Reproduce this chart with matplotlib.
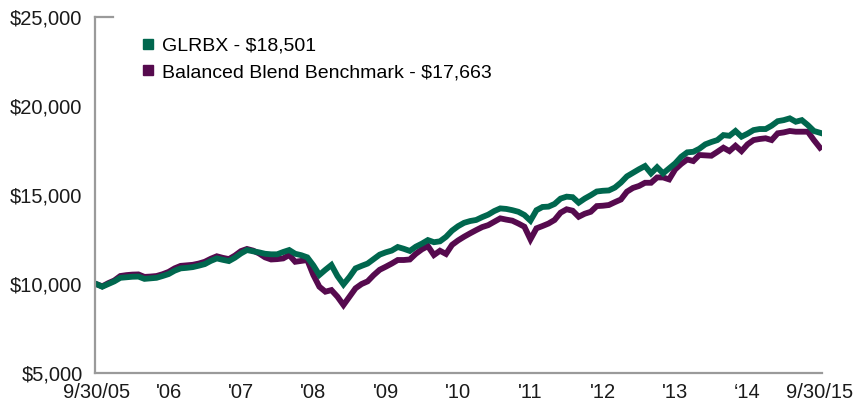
import matplotlib.pyplot as plt
from matplotlib.lines import Line2D
from matplotlib.ticker import FuncFormatter

plt.rcParams['font.family'] = ['Liberation Sans', 'DejaVu Sans']

# Monthly growth of $10,000, 9/30/05 .. 9/30/15
glrbx = [10000, 9850, 10000, 10150, 10350, 10380, 10410, 10420, 10290, 10320,
         10350, 10450, 10560, 10750, 10880, 10910, 10950, 11030, 11120, 11300,
         11440, 11360, 11290, 11480, 11720, 11910, 11840, 11780, 11700, 11670,
         11670, 11800, 11910, 11700, 11620, 11500, 11050, 10510, 10800, 11070,
         10450, 9980, 10400, 10880, 11020, 11150, 11400, 11650, 11780, 11880,
         12080, 11980, 11860, 12100, 12270, 12470, 12350, 12400, 12650, 13000,
         13250, 13440, 13540, 13600, 13760, 13900, 14100, 14250, 14220, 14150,
         14060, 13880, 13560, 14150, 14330, 14350, 14500, 14800, 14910, 14880,
         14570, 14800, 14990, 15200, 15240, 15260, 15420, 15700, 16050, 16250,
         16450, 16630, 16220, 16560, 16220, 16500, 16780, 17150, 17400, 17430,
         17600, 17850, 17980, 18090, 18370, 18330, 18600, 18280, 18450, 18650,
         18710, 18710, 18900, 19150, 19210, 19310, 19120, 19210, 18930, 18600,
         18501]

benchmark = [10000, 9870, 10050, 10200, 10450, 10500, 10530, 10540, 10400, 10420,
             10450, 10550, 10680, 10880, 11020, 11050, 11080, 11150, 11250, 11420,
             11560, 11470, 11400, 11600, 11850, 11970, 11880, 11720, 11500, 11380,
             11400, 11440, 11630, 11250, 11300, 11350, 10510, 9850, 9570, 9660,
             9290, 8820, 9290, 9760, 10000, 10150, 10500, 10800, 10970, 11150,
             11350, 11350, 11380, 11700, 11950, 12130, 11630, 11870, 11690, 12200,
             12450, 12660, 12850, 13030, 13200, 13310, 13500, 13690, 13620, 13560,
             13400, 13220, 12510, 13130, 13260, 13400, 13600, 14010, 14200, 14120,
             13780, 13950, 14060, 14380, 14400, 14440, 14600, 14750, 15190, 15400,
             15510, 15690, 15690, 15990, 15990, 15880, 16440, 16750, 17000, 16910,
             17250, 17230, 17210, 17430, 17660, 17470, 17770, 17470, 17850, 18090,
             18150, 18190, 18090, 18470, 18520, 18600, 18560, 18560, 18560, 18090,
             17663]

months = list(range(len(glrbx)))
tick_months = [0, 12, 24, 36, 48, 60, 72, 84, 96, 108, 120]
tick_labels = ['9/30/05', "'06", "'07", "'08", "'09", "'10", "'11", "'12",
               "'13", "\u201814", '9/30/15']
y_ticks = [5000, 10000, 15000, 20000, 25000]

green = '#00674E'
purple = '#560A4E'
gray = '#9a9a9a'

fig = plt.figure(figsize=(8.59, 4.07), dpi=100)
ax = fig.add_axes([0.1106, 0.0835, 0.846, 0.8745])

ax.plot(months, benchmark, color=purple, linewidth=4.2, solid_joinstyle='miter')
ax.plot(months, glrbx, color=green, linewidth=4.2, solid_joinstyle='miter')

ax.set_xlim(-0.2, 120.3)
ax.set_ylim(5000, 25000)
ax.set_xticks(tick_months)
ax.set_xticklabels(tick_labels)
ax.set_yticks(y_ticks)
ax.yaxis.set_major_formatter(FuncFormatter(lambda v, p: '${:,.0f}'.format(v)))
ax.tick_params(axis='both', length=0, labelsize=14.5, colors='#1a1a1a')
ax.tick_params(axis='y', pad=9)
ax.tick_params(axis='x', pad=7)

for side in ['top', 'right']:
    ax.spines[side].set_visible(False)
for side in ['left', 'bottom']:
    ax.spines[side].set_color(gray)
    ax.spines[side].set_linewidth(1.6)

# small stub at the top of the y axis
ax.plot([0, 0.025], [1, 1], transform=ax.transAxes, color=gray,
        linewidth=1.6, clip_on=False)

handles = [
    Line2D([], [], color=green, marker='s', linestyle='none', markersize=7.5),
    Line2D([], [], color=purple, marker='s', linestyle='none', markersize=7.5),
]
ax.legend(handles, ['GLRBX - $18,501', 'Balanced Blend Benchmark - $17,663'],
          loc='upper left', bbox_to_anchor=(0.053, 0.965), frameon=False,
          fontsize=14, handlelength=0.7, handletextpad=0.35, labelspacing=0.45,
          borderaxespad=0)

fig.savefig('out.png', dpi=100)
